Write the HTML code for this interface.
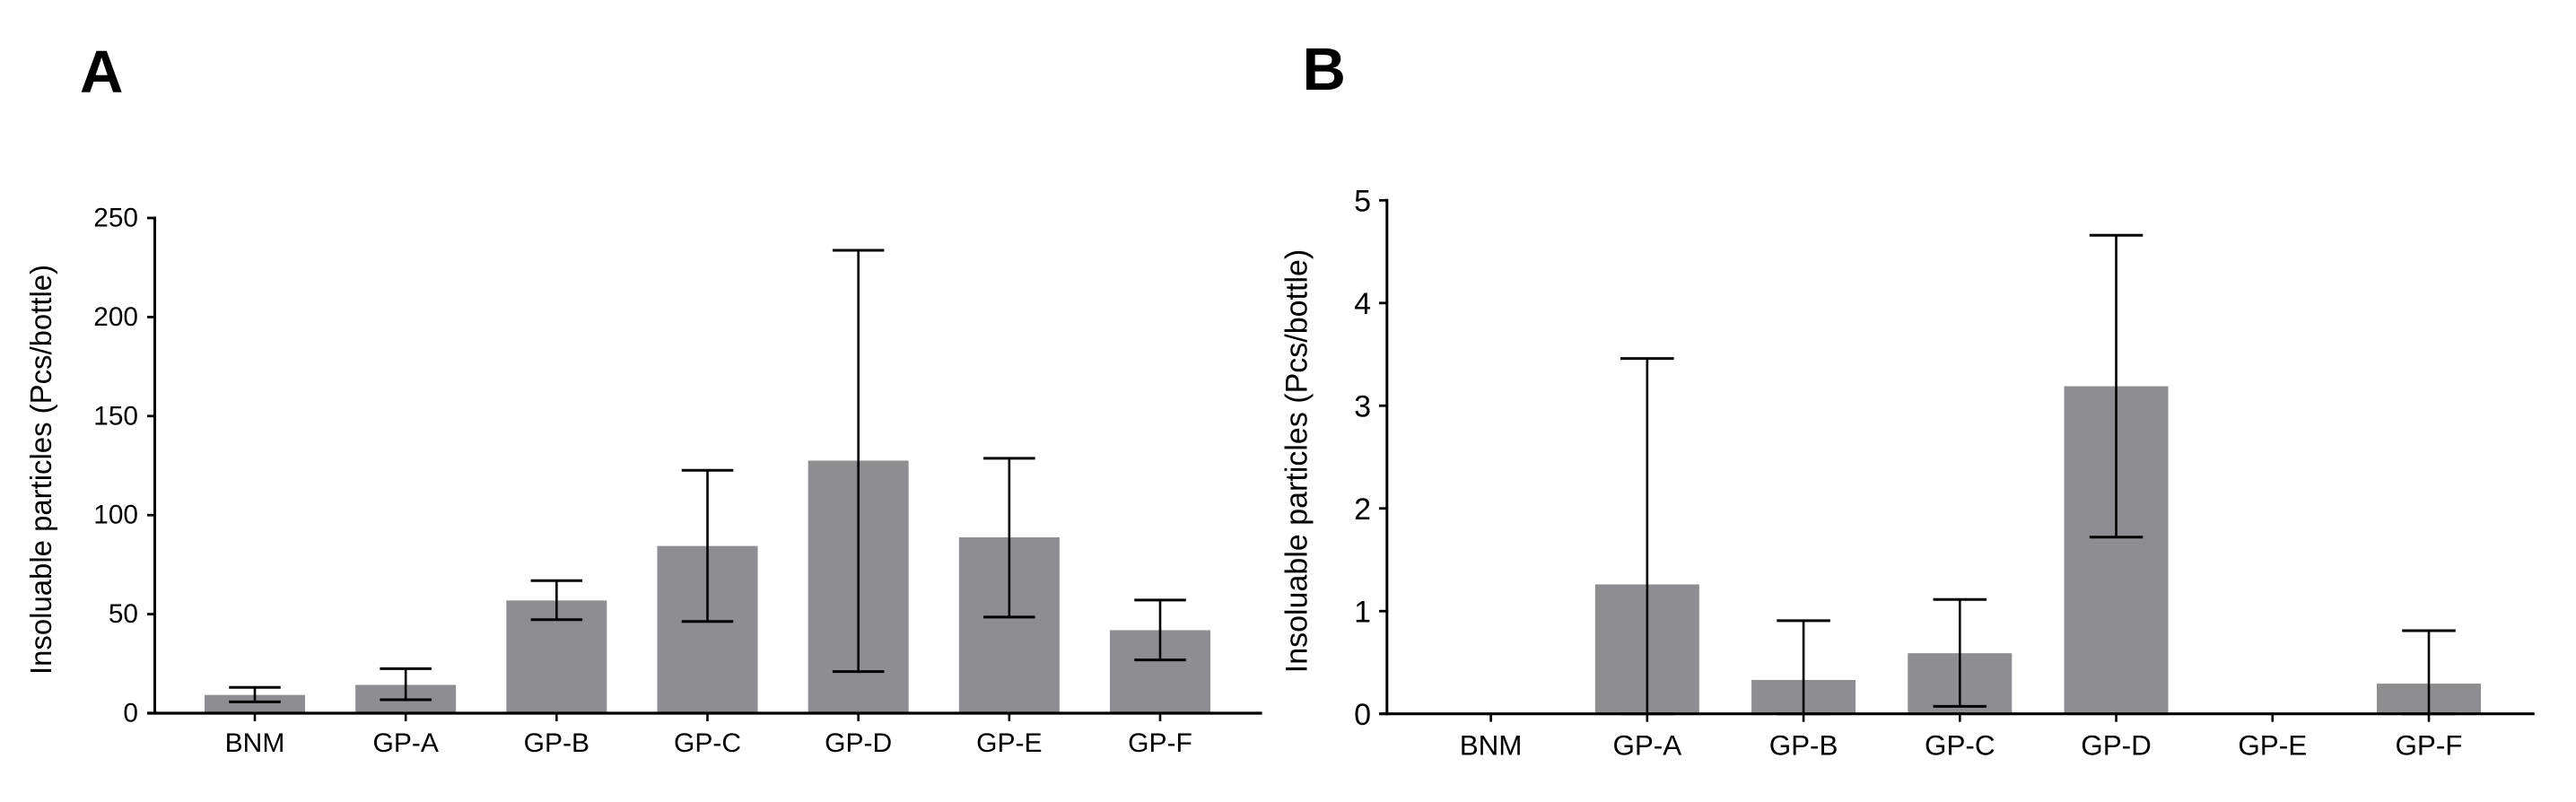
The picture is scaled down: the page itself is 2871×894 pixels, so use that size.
<!DOCTYPE html>
<html lang="en">
<head>
<meta charset="utf-8">
<title>Insoluable particles bar charts</title>
<style>
html,body{margin:0;padding:0;background:#fff;width:2871px;height:894px;overflow:hidden}
svg{display:block}
text{font-family:"Liberation Sans",Arial,sans-serif;fill:#000}
</style>
</head>
<body>
<svg id="figure" xmlns="http://www.w3.org/2000/svg" width="2871" height="894" viewBox="0 0 2871 894">
<rect x="0" y="0" width="2871" height="894" fill="#fff"/>
<text x="89" y="103" font-size="67" font-weight="700">A</text>
<text x="1451.5" y="100" font-size="67" font-weight="700">B</text>
<text transform="translate(57,523.5) rotate(-90)" text-anchor="middle" font-size="32.9">Insoluable particles (Pcs/bottle)</text>
<text transform="translate(1456.5,514) rotate(-90)" text-anchor="middle" font-size="34">Insoluable particles (Pcs/bottle)</text>
<g id="panel-a"></g>
<g id="panel-b"></g>
</svg>
<script>
const categories = ['BNM', 'GP-A', 'GP-B', 'GP-C', 'GP-D', 'GP-E', 'GP-F'];

const aTicks = [0, 50, 100, 150, 200, 250];
const aMeans = [9.2, 14.3, 56.9, 84.4, 127.5, 88.8, 41.9];
const aUpper = [13, 22.5, 66.9, 122.6, 233.7, 128.7, 57.1];
const aLower = [5.7, 6.8, 47.2, 46.3, 21, 48.5, 26.9];

const bTicks = [0, 1, 2, 3, 4, 5];
const bMeans = [0, 1.26, 0.33, 0.59, 3.19, 0, 0.294];
const bUpper = [0, 3.46, 0.907, 1.113, 4.66, 0, 0.81];
const bLower = [0, 0, 0, 0.073, 1.72, 0, 0];

const NS = 'http://www.w3.org/2000/svg';

function addLine(parent, x1, y1, x2, y2, width, name) {
  const el = document.createElementNS(NS, 'line');
  el.setAttribute('x1', x1);
  el.setAttribute('y1', y1);
  el.setAttribute('x2', x2);
  el.setAttribute('y2', y2);
  el.setAttribute('stroke', '#000');
  el.setAttribute('stroke-width', width);
  
  
  parent.appendChild(el);
}

function addText(parent, x, y, size, anchor, content, name) {
  const el = document.createElementNS(NS, 'text');
  el.setAttribute('x', x);
  el.setAttribute('y', y);
  el.setAttribute('font-size', size);
  el.setAttribute('text-anchor', anchor);
  el.textContent = content;
  
  
  parent.appendChild(el);
}

function drawPanel(g, cfg, ticks, means, upper, lower) {
  const yMax = ticks[ticks.length - 1];
  const y = v => cfg.y0 - v / yMax * (cfg.y0 - cfg.yTop);
  const x = i => cfg.x0 + i * (cfg.x1 - cfg.x0) / (categories.length - 1);

  categories.forEach((cat, i) => {
    if (means[i] > 0) {
      const bar = document.createElementNS(NS, 'rect');
      bar.setAttribute('x', x(i) - cfg.barW / 2);
      bar.setAttribute('y', y(means[i]));
      bar.setAttribute('width', cfg.barW);
      bar.setAttribute('height', cfg.y0 - y(means[i]));
      bar.setAttribute('fill', '#8e8d91');
      
      
      g.appendChild(bar);
    }
  });

  categories.forEach((cat, i) => {
    if (means[i] > 0) {
      const id = cat.toLowerCase();
      addLine(g, x(i), y(upper[i]), x(i), y(lower[i]), 2.6, 'error-stem-' + id);
      addLine(g, x(i) - cfg.capW / 2, y(upper[i]), x(i) + cfg.capW / 2, y(upper[i]), 3, 'error-cap-upper-' + id);
      addLine(g, x(i) - cfg.capW / 2, y(lower[i]), x(i) + cfg.capW / 2, y(lower[i]), 3, 'error-cap-lower-' + id);
    }
  });

  addLine(g, cfg.axisX, cfg.yTop - 1.5, cfg.axisX, cfg.y0 + 1.5, 3, 'y-axis-line');
  addLine(g, cfg.tickLeft, cfg.y0, cfg.axisRight, cfg.y0, 3.2, 'x-axis-line');

  ticks.forEach(t => {
    addLine(g, cfg.tickLeft, y(t), cfg.axisX, y(t), 2.8, 'y-tick-' + t);
    addText(g, cfg.yLabelRight, y(t) + cfg.yLabelDy, cfg.yFont, 'end', String(t), 'y-tick-label-' + t);
  });

  categories.forEach((cat, i) => {
    const id = cat.toLowerCase();
    addLine(g, x(i), cfg.y0, x(i), cfg.y0 + 9, 2.6, 'x-tick-' + id);
    addText(g, x(i), cfg.xLabelY, cfg.xFont, 'middle', cat, 'x-tick-label-' + id);
  });
}

drawPanel(document.getElementById('panel-a'), {
  x0: 284, x1: 1293, y0: 795, yTop: 243, axisX: 172.5, axisRight: 1406.6, tickLeft: 164,
  barW: 112, capW: 57.5, yLabelRight: 154, yLabelDy: 9.5, yFont: 29.8, xFont: 30, xLabelY: 838
}, aTicks, aMeans, aUpper, aLower);

drawPanel(document.getElementById('panel-b'), {
  x0: 1661.6, x1: 2707, y0: 795.7, yTop: 223.3, axisX: 1545.8, axisRight: 2824.8, tickLeft: 1537,
  barW: 116, capW: 59.5, yLabelRight: 1528, yLabelDy: 12.3, yFont: 34, xFont: 31.4, xLabelY: 841.3
}, bTicks, bMeans, bUpper, bLower);
</script>
</body>
</html>
